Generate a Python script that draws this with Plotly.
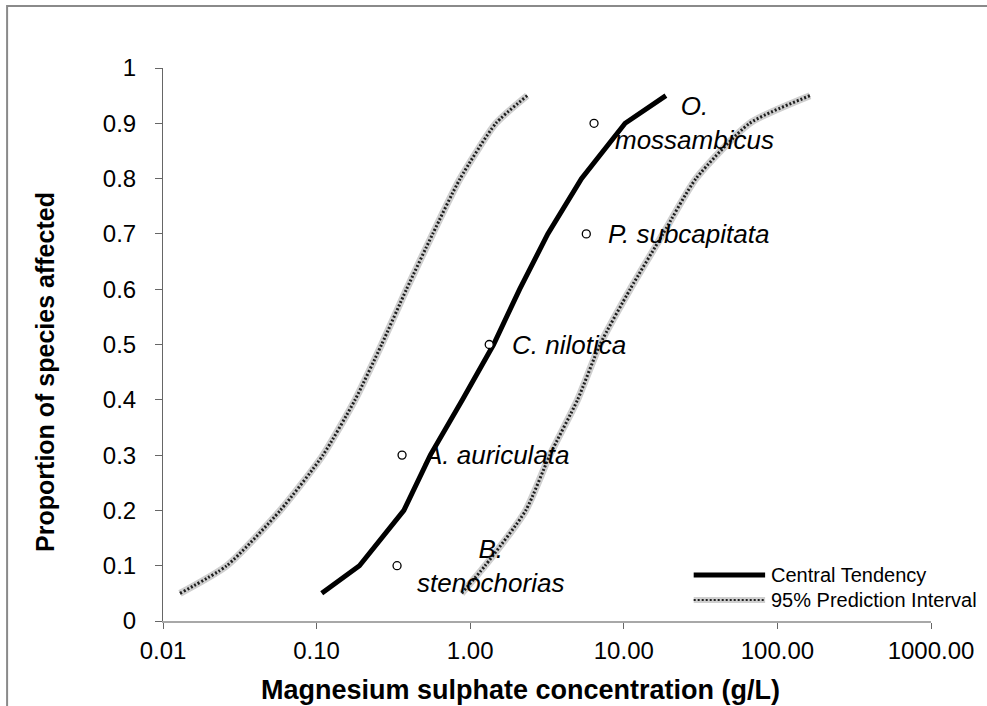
import math
import plotly.graph_objects as go

# Proportion of species affected (y) and the fitted species sensitivity curves (x, g/L)
proportions = [0.05, 0.1, 0.2, 0.3, 0.4, 0.5, 0.6, 0.7, 0.8, 0.9, 0.95]
central_conc = [0.108, 0.19, 0.37, 0.55, 0.89, 1.42, 2.1, 3.2, 5.3, 10.2, 18.8]
lower_conc = [0.0129, 0.026, 0.058, 0.11, 0.178, 0.265, 0.385, 0.57, 0.86, 1.47, 2.35]
upper_conc = [0.88, 1.25, 2.3, 3.3, 5.0, 7.0, 11.0, 18.0, 29.5, 66.0, 163.0]

# Observed toxicity data per species
species = ["B.<br>stenochorias", "A. auriculata", "C. nilotica", "P. subcapitata", "O.<br>mossambicus"]
species_conc = [0.334, 0.36, 1.33, 5.7, 6.4]
species_prop = [0.1, 0.3, 0.5, 0.7, 0.9]
label_shift = [93, 19, 21, 20, 100]
label_anchor = ["center", "left", "left", "left", "center"]

x_tickvals = [0.01, 0.1, 1, 10, 100, 1000]
x_ticktext = ["0.01", "0.10", "1.00", "10.00", "100.00", "1000.00"]
y_tickvals = [0, 0.1, 0.2, 0.3, 0.4, 0.5, 0.6, 0.7, 0.8, 0.9, 1.0]
y_ticktext = ["0", "0.1", "0.2", "0.3", "0.4", "0.5", "0.6", "0.7", "0.8", "0.9", "1"]

FONT = "Liberation Sans, Arial, sans-serif"
BAND_BASE = "#cfcfcf"
BAND_DOTS = "#1e1e1e"

fig = go.Figure()

# 95% prediction interval bands: a light grey base with a dotted overlay
for conc in (lower_conc, upper_conc):
    fig.add_trace(go.Scatter(x=conc, y=proportions, mode="lines",
                             line=dict(color=BAND_BASE, width=7, shape="spline", smoothing=0.6),
                             showlegend=False, hoverinfo="skip"))
    fig.add_trace(go.Scatter(x=conc, y=proportions, mode="lines",
                             line=dict(color=BAND_DOTS, width=3, dash="2px,2px",
                                       shape="spline", smoothing=0.6),
                             showlegend=False, hoverinfo="skip"))

# Central tendency
fig.add_trace(go.Scatter(x=central_conc, y=proportions, mode="lines",
                         line=dict(color="black", width=5),
                         showlegend=False))

# Species points
fig.add_trace(go.Scatter(x=species_conc, y=species_prop, mode="markers",
                         marker=dict(symbol="circle", size=8, color="white",
                                     line=dict(color="black", width=1.3)),
                         showlegend=False))

annotations = []
for name, xv, yv, sh, anc in zip(species, species_conc, species_prop, label_shift, label_anchor):
    annotations.append(dict(x=math.log10(xv), y=yv, xref="x", yref="y", text=f"<i>{name}</i>",
                            showarrow=False, xanchor=anc, yanchor="middle", xshift=sh,
                            align="center",
                            font=dict(family=FONT, size=26, color="black")))

# Axis titles
annotations.append(dict(x=0.466, y=-0.125, xref="paper", yref="paper",
                        text="<b>Magnesium sulphate concentration (g/L)</b>", showarrow=False,
                        xanchor="center", yanchor="middle",
                        font=dict(family=FONT, size=27, color="black")))
annotations.append(dict(x=-0.154, y=0.45, xref="paper", yref="paper",
                        text="<b>Proportion of species affected</b>", showarrow=False,
                        textangle=-90, xanchor="center", yanchor="middle",
                        font=dict(family=FONT, size=25, color="black")))

# Legend (drawn manually so the swatches are long)
leg_x0, leg_x1, leg_tx = 0.691, 0.784, 0.789
leg_y1, leg_y2 = 0.083, 0.038
annotations.append(dict(x=leg_tx, y=leg_y1, xref="paper", yref="paper", text="Central Tendency",
                        showarrow=False, xanchor="left", yanchor="middle",
                        font=dict(family=FONT, size=20, color="black")))
annotations.append(dict(x=leg_tx, y=leg_y2, xref="paper", yref="paper", text="95% Prediction Interval",
                        showarrow=False, xanchor="left", yanchor="middle",
                        font=dict(family=FONT, size=20, color="black")))

shapes = [
    dict(type="line", xref="paper", yref="paper", x0=leg_x0, x1=leg_x1, y0=leg_y1, y1=leg_y1,
         line=dict(color="black", width=5)),
    dict(type="line", xref="paper", yref="paper", x0=leg_x0, x1=leg_x1, y0=leg_y2, y1=leg_y2,
         line=dict(color=BAND_BASE, width=6)),
    dict(type="line", xref="paper", yref="paper", x0=leg_x0, x1=leg_x1, y0=leg_y2, y1=leg_y2,
         line=dict(color=BAND_DOTS, width=2, dash="2px,2px")),
    # chart frame
    dict(type="rect", xref="paper", yref="paper", x0=-0.203, x1=1.3, y0=-0.4, y1=1.112,
         line=dict(color="#8a8a8a", width=2), layer="below"),
]

fig.update_layout(
    width=987, height=706,
    margin=dict(l=163, r=56, t=68, b=85),
    paper_bgcolor="white", plot_bgcolor="white",
    font=dict(family=FONT, size=24, color="black"),
    showlegend=False,
    annotations=annotations,
    shapes=shapes,
    xaxis=dict(type="log", range=[-2, 3], tickvals=x_tickvals, ticktext=x_ticktext,
               showgrid=False, zeroline=False, showline=True, linecolor="#a8a8a8", linewidth=2,
               ticks="outside", ticklen=6, tickcolor="#666666", tickwidth=1,
               ticklabelstandoff=1,
               tickfont=dict(family=FONT, size=24, color="black")),
    yaxis=dict(range=[0, 1], tickvals=y_tickvals, ticktext=y_ticktext,
               showgrid=False, zeroline=False, showline=True, linecolor="#666666", linewidth=1,
               ticks="outside", ticklen=7, tickcolor="#666666", tickwidth=1,
               ticklabelstandoff=14,
               tickfont=dict(family=FONT, size=24, color="black")),
)

fig.write_html("out.html")
